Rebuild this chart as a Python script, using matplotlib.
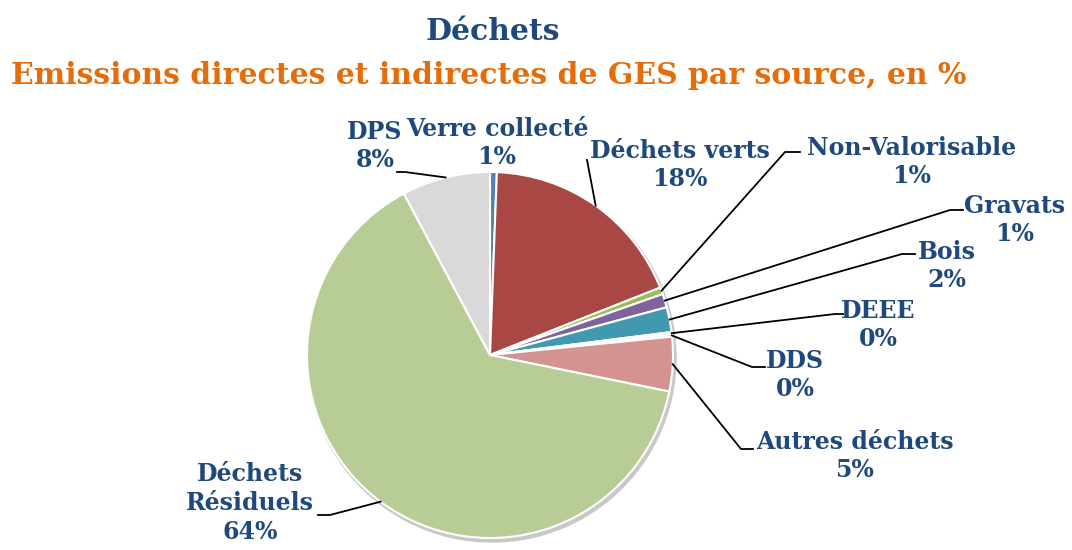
# Camembert des émissions de GES du secteur déchets, étiquettes avec lignes de rappel
import matplotlib
matplotlib.use('Agg')
import matplotlib.pyplot as plt
import numpy as np

# données
sources = ['Verre collecté', 'Déchets verts', 'Non-Valorisable', 'Gravats', 'Bois',
           'DEEE', 'DDS', 'Autres déchets', 'Déchets\nRésiduels', 'DPS']
parts = [0.6, 18.4, 0.6, 1.2, 2.2, 0.2, 0.2, 4.8, 64.0, 7.8]
couleurs = ['#4F81BD', '#A94744', '#9BBB59', '#7E649E', '#4198AF',
            '#F79646', '#2C4D75', '#D39391', '#B8CD95', '#D9D9D9']

# position des étiquettes (pixels) et coude de la ligne de rappel
lab_pos = [(497, 143), (680, 165), (912, 162), (1015, 220), (947, 266),
           (878, 325), (795, 375), (855, 456), (250, 503), (375, 146)]
coudes = [None, (587, 160), (785, 152), (950, 210), (902, 254),
          (835, 314), (752, 367), (741, 449), (330, 515), (405, 172)]
fin_ligne = [None, None, (800, 152), (963, 210), (915, 254),
             (843, 314), (765, 367), (753, 449), (318, 515), (397, 172)]

W, H = 1072, 550
cx, cy, R = 490, 355, 183

fig = plt.figure(figsize=(W / 100, H / 100), dpi=100)
ax = fig.add_axes([0, 0, 1, 1])

# ombre légère
ombre = plt.Circle((cx + 2, H - cy - 3), R + 1, color='#C8C8C8', zorder=0)
ax.add_patch(ombre)

ax.pie(parts, colors=couleurs, startangle=90, counterclock=False,
       center=(cx, H - cy), radius=R, frame=True,
       wedgeprops=dict(edgecolor='white', linewidth=1.5))

bleu = '#1F497D'
police = 'DejaVu Serif'

total = sum(parts)
cumul = 0
for i, (nom, p) in enumerate(zip(sources, parts)):
    theta = np.radians((cumul + p / 2) / total * 360)
    cumul += p
    txt = '%s\n%d%%' % (nom, int(round(p)))
    lx, ly = lab_pos[i]
    ax.text(lx, H - ly, txt, ha='center', va='center', fontsize=17,
            fontweight='bold', color=bleu, family=police, linespacing=1.25)
    if coudes[i] is not None:
        x0 = cx + R * np.sin(theta)
        y0 = (H - cy) + R * np.cos(theta)
        ex, ey = coudes[i]
        xs = [x0, ex]
        ys = [y0, H - ey]
        if fin_ligne[i] is not None:
            fx, fy = fin_ligne[i]
            xs.append(fx)
            ys.append(H - fy)
        ax.plot(xs, ys, color='black', linewidth=1.3, zorder=5)

# titres
ax.text(493, H - 32, 'Déchets', ha='center', va='center', fontsize=21.5,
        fontweight='bold', color=bleu, family=police)
ax.text(489, H - 76, 'Emissions directes et indirectes de GES par source, en %',
        ha='center', va='center', fontsize=21.5, fontweight='bold',
        color='#E46C0A', family=police)

ax.set_xlim(0, W)
ax.set_ylim(0, H)
ax.set_aspect('equal')
ax.axis('off')

fig.savefig('out.png', dpi=100)
